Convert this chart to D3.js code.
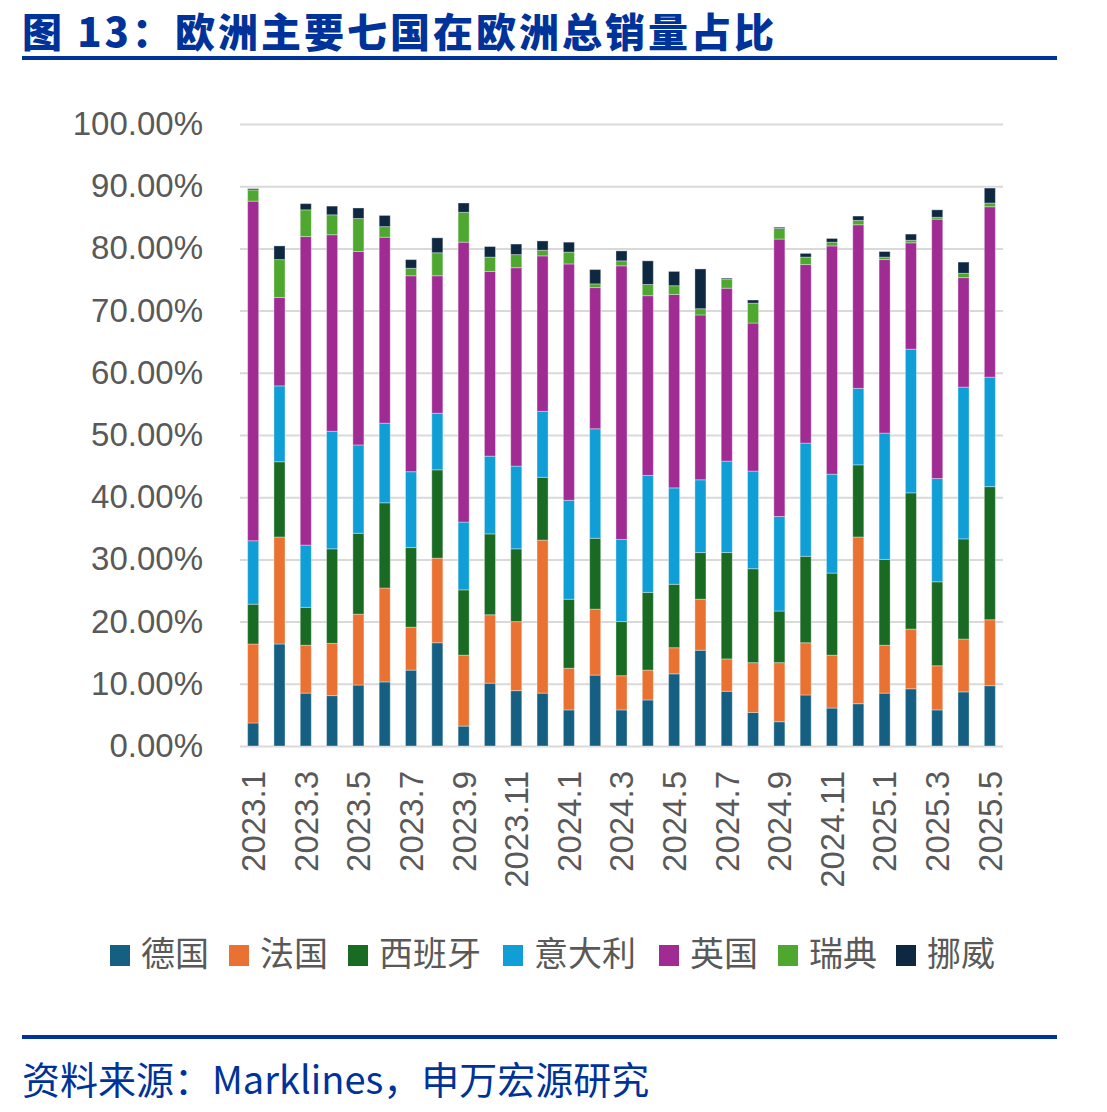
<!DOCTYPE html>
<html><head><meta charset="utf-8">
<script src="https://cdn.jsdelivr.net/npm/d3@7"></script>
<style>
body{margin:0;background:#fff;}
svg{display:block;}
</style></head>
<body>
<svg id="c" width="1107" height="1112"></svg>
<script>
const months = ["2023.1","2023.2","2023.3","2023.4","2023.5","2023.6","2023.7","2023.8","2023.9","2023.10","2023.11","2023.12",
"2024.1","2024.2","2024.3","2024.4","2024.5","2024.6","2024.7","2024.8","2024.9","2024.10","2024.11","2024.12",
"2025.1","2025.2","2025.3","2025.4","2025.5"];
const seriesNames = ["德国","法国","西班牙","意大利","英国","瑞典","挪威"];
const germany = [3.7,16.4,8.5,8.1,9.8,10.3,12.2,16.6,3.2,10.1,8.9,8.5, 5.8,11.4,5.8,7.4,11.6,15.4,8.8,5.4,3.9,8.2,6.1,6.8, 8.5,9.2,5.8,8.7,9.7];
const france  = [12.7,17.2,7.7,8.4,11.4,15.1,6.9,13.6,11.4,11.0,11.1,24.6, 6.7,10.6,5.5,4.8,4.2,8.2,5.2,8.0,9.5,8.4,8.5,26.8, 7.7,9.6,7.1,8.5,10.6];
const spain   = [6.4,12.1,6.1,15.2,13.0,13.7,12.8,14.2,10.5,13.0,11.7,10.1, 11.1,11.4,8.7,12.5,10.2,7.5,17.1,15.1,8.3,13.9,13.2,11.6, 13.8,21.9,13.5,16.1,21.4];
const italy   = [10.2,12.2,10.0,18.9,14.2,12.8,12.2,9.1,10.9,12.5,13.3,10.6, 15.9,17.6,13.2,18.8,15.5,11.7,14.7,15.7,15.2,18.2,15.9,12.3, 20.3,23.1,16.6,24.4,17.6];
const uk      = [54.6,14.2,49.6,31.6,31.1,29.9,31.5,22.1,45.0,29.7,31.9,25.0, 38.0,22.7,44.0,28.9,31.1,26.5,27.8,23.8,44.6,28.7,36.7,26.3, 27.9,17.1,41.7,17.6,27.4];
const sweden  = [1.8,6.1,4.3,3.2,5.3,1.7,1.2,3.7,4.8,2.3,2.1,0.9, 1.9,0.6,0.8,1.8,1.4,1.0,1.4,3.2,1.7,1.2,0.6,0.7, 0.4,0.4,0.3,0.7,0.6];
const norway  = [0.2,2.2,1.0,1.4,1.7,1.8,1.4,2.4,1.5,1.7,1.7,1.5, 1.6,2.3,1.6,3.8,2.3,6.4,0.2,0.5,0.2,0.6,0.6,0.7, 0.9,1.0,1.2,1.8,2.4];
const yTicks = [0,10,20,30,40,50,60,70,80,90,100];
const xTickLabels = months.filter((d,i)=>i%2===0);
const colors = ["#156082","#E97132","#196B24","#0F9ED5","#A02B93","#4EA72E","#0E2841"];

const seriesVals = [germany,france,spain,italy,uk,sweden,norway];
const rows = months.map((m,i)=>{const o={month:m}; seriesNames.forEach((s,j)=>o[s]=seriesVals[j][i]); return o;});
const stacked = d3.stack().keys(seriesNames)(rows);

const svg = d3.select("#c");
const pL=240, pR=1003, pT=124, pB=746;
const x = d3.scaleBand().domain(months).range([pL,pR]).paddingInner(0.58).paddingOuter(0.29);
const y = d3.scaleLinear().domain([0,100]).range([pB,pT]);
const tickFont = "'Liberation Sans', Arial, sans-serif";
const cjk = "'Noto Sans CJK SC', sans-serif";

// title
svg.append("text").attr("x",22).attr("y",47).attr("font-family",cjk).attr("font-weight",900)
  .attr("font-size",40).attr("letter-spacing",3).attr("fill","#003399").text("图 13：欧洲主要七国在欧洲总销量占比");
svg.append("rect").attr("x",22).attr("y",56).attr("width",1035).attr("height",4).attr("fill","#003399");

// gridlines + y labels
const yAxis = d3.axisLeft(y).tickValues(yTicks).tickFormat(d=>d.toFixed(2)+"%").tickSize(0).tickPadding(37);
const ga = svg.append("g").attr("transform",`translate(${pL},0)`).call(yAxis);
ga.select(".domain").remove();
ga.selectAll(".tick line").attr("stroke","#d9d9d9").attr("stroke-width",2).attr("x1",0).attr("x2",pR-pL);
ga.selectAll(".tick text").attr("font-family",tickFont).attr("font-size",33).attr("fill","#595959");

// bars
svg.append("g").selectAll("g").data(stacked).join("g").attr("fill",(d,i)=>colors[i])
  .selectAll("rect").data(d=>d).join("rect")
  .attr("x",d=>x(d.data.month)).attr("width",x.bandwidth())
  .attr("y",d=>y(d[1])).attr("height",d=>y(d[0])-y(d[1]))
  .attr("stroke","#ffffff").attr("stroke-opacity",0.35).attr("stroke-width",1);

// x axis
const xAxis = d3.axisBottom(x).tickValues(xTickLabels).tickSize(0).tickPadding(0);
const gx = svg.append("g").attr("transform",`translate(0,${pB})`).call(xAxis);
gx.select(".domain").remove();
gx.selectAll(".tick text").attr("font-family",tickFont).attr("font-size",33).attr("fill","#595959")
  .attr("text-anchor","end").attr("transform","rotate(-90)").attr("x",-25).attr("y",0).attr("dy","0.36em");

// legend
const legX = [110,229,348,503,659,778,896];
const lg = svg.append("g").selectAll("g").data(seriesNames).join("g").attr("transform",(d,i)=>`translate(${legX[i]},0)`);
lg.append("rect").attr("x",0).attr("y",945).attr("width",20).attr("height",21).attr("fill",(d,i)=>colors[i]);
lg.append("text").attr("x",31).attr("y",954).attr("dy","0.36em").attr("font-family",cjk).attr("font-size",34)
  .attr("fill","#595959").text(d=>d);

// footer
svg.append("rect").attr("x",22).attr("y",1035).attr("width",1035).attr("height",4).attr("fill","#003399");
svg.append("text").attr("x",22).attr("y",1094).attr("font-family",cjk).attr("font-size",38)
  .attr("fill","#003399").text("资料来源：Marklines，申万宏源研究");
</script>
</body></html>
